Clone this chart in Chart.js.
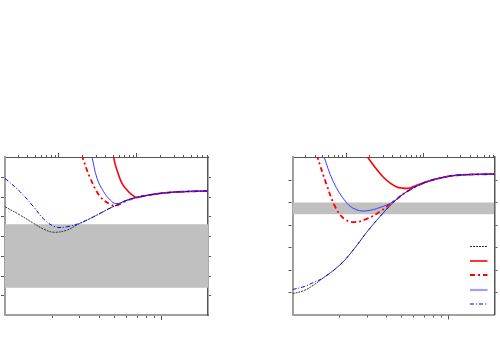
<!DOCTYPE html>
<html><head><meta charset="utf-8">
<script src="https://cdn.jsdelivr.net/npm/chart.js@4"></script>
<style>html,body{margin:0;padding:0;background:#fff;} #wrap{position:relative;width:500px;height:350px;} canvas{position:absolute;top:0;}</style>
</head><body><div id="wrap"><canvas id="cL" width="250" height="350" style="left:0"></canvas><canvas id="cR" width="250" height="350" style="left:250px"></canvas></div>
<script>
// ---------- axis ranges ----------
const xBottomRange = [1, 20];
const xTopRange = [2.07, 828];
const yRangeLeft = [0, 8];
const yRangeRight = [0, 7];

// ---------- shaded bands ----------
const bandLeft = [1.38, 4.59];
const bandRight = [4.46, 4.98];

// ---------- left panel series ----------
const leftBlackX = [1, 1.25, 1.525, 1.77, 2.05, 2.5, 2.89, 3.5, 4.08, 4.6, 5.22, 6.0, 7.02, 8.5, 9.9, 13.3, 20];
const leftBlackY = [5.48, 5.06, 4.64, 4.35, 4.19, 4.30, 4.56, 4.88, 5.15, 5.37, 5.57, 5.8, 5.96, 6.08, 6.16, 6.24, 6.28];
const leftRedX = [4.9, 4.97, 5.10, 5.35, 5.62, 6.05, 6.52, 7.02, 7.7, 8.5, 9.9, 13.3, 20];
const leftRedY = [8.35, 8.0, 7.59, 7.09, 6.67, 6.33, 6.08, 5.95, 6.02, 6.08, 6.16, 6.24, 6.28];
const leftRedDashX = [3.1, 3.52, 4.08, 4.73, 5.15, 5.76, 7.02, 8.5, 9.9, 13.3, 20];
const leftRedDashY = [8.1, 6.92, 5.99, 5.60, 5.53, 5.73, 5.96, 6.08, 6.16, 6.24, 6.28];
const leftBlueX = [3.6, 3.89, 4.29, 4.73, 5.15, 6.0, 7.02, 8.5, 9.9, 13.3, 20];
const leftBlueY = [8.05, 6.92, 6.24, 5.82, 5.64, 5.8, 5.96, 6.08, 6.16, 6.24, 6.28];
const leftBlueDashX = [1, 1.25, 1.525, 1.77, 2.1, 2.5, 3.04, 3.5, 4.08, 4.6, 5.22, 6.0, 7.02, 8.5, 9.9, 13.3, 20];
const leftBlueDashY = [6.92, 6.24, 5.48, 4.86, 4.47, 4.47, 4.66, 4.88, 5.15, 5.37, 5.57, 5.8, 5.96, 6.08, 6.16, 6.24, 6.28];

// ---------- right panel series ----------
const rightBlackX = [1, 1.2, 1.36, 1.58, 2.03, 2.47, 3.01, 3.67, 4.47, 5.45, 6.98, 9.4, 12, 20];
const rightBlackY = [0.92, 1.08, 1.30, 1.63, 2.22, 2.88, 3.66, 4.36, 4.99, 5.46, 5.84, 6.10, 6.20, 6.24];
const rightRedX = [2.98, 3.04, 3.49, 3.85, 4.26, 4.70, 5.06, 5.59, 6.02, 6.98, 9.4, 12, 20];
const rightRedY = [7.08, 7.0, 6.44, 6.10, 5.84, 5.67, 5.62, 5.61, 5.69, 5.86, 6.10, 6.20, 6.24];
const rightRedDashX = [1.43, 1.66, 1.88, 2.13, 2.47, 3.01, 3.67, 4.47, 5.45, 6.98, 9.4, 12, 20];
const rightRedDashY = [7.1, 5.76, 4.80, 4.28, 4.11, 4.25, 4.58, 5.02, 5.46, 5.84, 6.10, 6.20, 6.24];
const rightBlueX = [1.58, 1.83, 2.24, 2.60, 3.01, 3.67, 4.47, 5.45, 6.98, 9.4, 12, 20];
const rightBlueY = [7.1, 5.91, 4.95, 4.65, 4.61, 4.76, 5.02, 5.46, 5.84, 6.10, 6.20, 6.24];
const rightBlueDashX = [1, 1.2, 1.36, 1.58, 2.03, 2.47, 3.01, 3.67, 4.47, 5.45, 6.98, 9.4, 12, 20];
const rightBlueDashY = [1.11, 1.25, 1.42, 1.63, 2.22, 2.88, 3.66, 4.36, 4.99, 5.46, 5.84, 6.10, 6.20, 6.24];

function pts(xs, ys) { return xs.map((x, i) => ({ x: x, y: ys[i] })); }

const styles = {
  black: { borderColor: '#333333', borderWidth: 1, borderDash: [2, 1], order: 5 },
  red: { borderColor: '#ff0000', borderWidth: 1.6, borderDash: [], order: 4 },
  redDash: { borderColor: '#ff0000', borderWidth: 1.8, borderDash: [5, 3, 2, 3], order: 3 },
  blue: { borderColor: '#3c3cff', borderWidth: 1, borderDash: [], order: 2, legendColor: '#9f9fff', legendWidth: 2.2 },
  blueDash: { borderColor: '#0000ff', borderWidth: 1, borderDash: [4, 2, 1, 2], order: 1 }
};

function lineDs(xs, ys, st) {
  return Object.assign({
    data: pts(xs, ys), pointRadius: 0, fill: false, tension: 0.4,
    xAxisID: 'x', yAxisID: 'y'
  }, st);
}
function bandDs(band) {
  return {
    data: pts(xBottomRange, [band[1], band[1]]), pointRadius: 0, borderWidth: 0, tension: 0,
    borderColor: 'rgba(0,0,0,0)', backgroundColor: '#c0c0c0', fill: { value: band[0] },
    order: 10, xAxisID: 'x', yAxisID: 'y'
  };
}

const tickPlugin = {
  id: 'outTicks',
  afterDraw(chart) {
    const ctx = chart.ctx, a = chart.chartArea;
    ctx.save();
    ctx.strokeStyle = '#555'; ctx.lineWidth = 1;
    ['x', 'x2'].forEach(id => {
      const s = chart.scales[id];
      const lo = Math.floor(Math.log10(s.min)), hi = Math.ceil(Math.log10(s.max));
      for (let e = lo; e <= hi; e++) for (let n = 1; n <= 9; n++) {
        const v = n * Math.pow(10, e);
        if (v <= s.min * 1.0001 || v >= s.max * 0.9999) continue;
        const p = Math.round(s.getPixelForValue(v)) + 0.5;
        const len = n === 1 ? 4 : 2;
        ctx.beginPath();
        if (id === 'x') { ctx.moveTo(p, a.bottom + 1); ctx.lineTo(p, a.bottom + 1 + len); }
        else { ctx.moveTo(p, a.top); ctx.lineTo(p, a.top - len); }
        ctx.stroke();
      }
    });
    ['y', 'y2'].forEach(id => {
      const s = chart.scales[id];
      for (let v = Math.ceil(s.min); v < s.max; v++) {
        if (v <= s.min) continue;
        const p = Math.round(s.getPixelForValue(v)) + 0.5;
        ctx.beginPath();
        if (id === 'y') { ctx.moveTo(a.left - 1, p); ctx.lineTo(a.left - 4, p); }
        else { ctx.moveTo(a.right + 1, p); ctx.lineTo(a.right + 3, p); }
        ctx.stroke();
      }
    });
    ctx.restore();
  }
};

const legendPlugin = {
  id: 'lineLegend',
  afterDraw(chart, args, opts) {
    if (!opts || !opts.show) return;
    const ctx = chart.ctx, a = chart.chartArea;
    const rows = [89.5, 104, 118, 133, 147];
    const x1 = a.right - 24.5, x2 = a.right - 7;
    const dss = chart.data.datasets.filter(d => d.legendRow !== undefined);
    ctx.save();
    dss.forEach(d => {
      const y = a.top + rows[d.legendRow];
      ctx.strokeStyle = d.legendColor || d.borderColor;
      ctx.lineWidth = d.legendWidth || Math.max(d.borderWidth, 1.2);
      ctx.setLineDash(d.borderDash || []);
      ctx.beginPath(); ctx.moveTo(x1, y); ctx.lineTo(x2, y); ctx.stroke();
    });
    ctx.restore();
  }
};

function makeChart(canvasId, series, band, yRange, padding, showLegend) {
  const datasets = series.map((s, i) => Object.assign(lineDs(s[0], s[1], s[2]), { legendRow: i }));
  datasets.push(bandDs(band));
  const fit0h = s => { s.height = 0; };
  const fit0w = s => { s.width = 0; };
  return new Chart(document.getElementById(canvasId), {
    type: 'line',
    data: { datasets: datasets },
    options: {
      responsive: false, animation: false, devicePixelRatio: 1,
      layout: { padding: padding },
      plugins: { legend: { display: false }, tooltip: { enabled: false }, lineLegend: { show: showLegend } },
      scales: {
        x: { type: 'logarithmic', position: 'bottom', min: xBottomRange[0], max: xBottomRange[1],
             grid: { display: false }, ticks: { display: false }, border: { display: true, color: '#a0a0a0', width: 2 }, afterFit: fit0h },
        x2: { type: 'logarithmic', position: 'top', min: xTopRange[0], max: xTopRange[1],
             grid: { display: false }, ticks: { display: false }, border: { display: true, color: '#555', width: 1 }, afterFit: fit0h },
        y: { type: 'linear', position: 'left', min: yRange[0], max: yRange[1],
             grid: { display: false }, ticks: { display: false }, border: { display: true, color: '#a0a0a0', width: 2 }, afterFit: fit0w },
        y2: { type: 'linear', position: 'right', min: yRange[0], max: yRange[1],
             grid: { display: false }, ticks: { display: false }, border: { display: true, color: '#555', width: 1.5 }, afterFit: fit0w }
      }
    },
    plugins: [tickPlugin, legendPlugin]
  });
}

makeChart('cL', [
  [leftBlackX, leftBlackY, styles.black],
  [leftRedX, leftRedY, styles.red],
  [leftRedDashX, leftRedDashY, styles.redDash],
  [leftBlueX, leftBlueY, styles.blue],
  [leftBlueDashX, leftBlueDashY, styles.blueDash]
], bandLeft, yRangeLeft, { left: 5, top: 157, right: 42, bottom: 35 }, false);

makeChart('cR', [
  [rightBlackX, rightBlackY, styles.black],
  [rightRedX, rightRedY, styles.red],
  [rightRedDashX, rightRedDashY, styles.redDash],
  [rightBlueX, rightBlueY, styles.blue],
  [rightBlueDashX, rightBlueDashY, styles.blueDash]
], bandRight, yRangeRight, { left: 42.5, top: 157, right: 5.5, bottom: 35.5 }, true);
</script>
</body></html>
